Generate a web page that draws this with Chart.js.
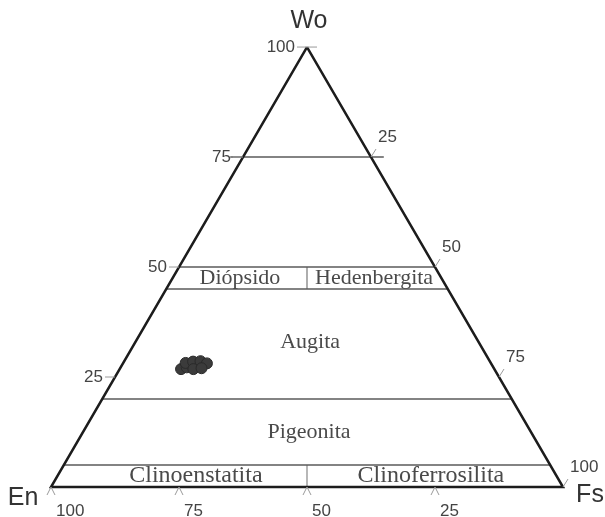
<!DOCTYPE html>
<html>
<head>
<meta charset="utf-8">
<script src="https://cdn.jsdelivr.net/npm/chart.js@4.4.1/dist/chart.umd.min.js"></script>
<style>
  html, body { margin: 0; padding: 0; background: #fff; }
</style>
</head>
<body>
<canvas id="diagrama" width="605" height="517"></canvas>
<script>
// Muestras: % Wo y % Fs (En = 100 - Wo - Fs)
const muestrasWo = [26.8, 27.2, 28.2, 28.5, 28.6, 28.1, 26.8, 27.0];
const muestrasFs = [12.0, 12.9, 12.2, 13.5, 14.9, 16.4, 14.4, 15.9];

// Vértices y marcas de los ejes
const vertices = ["Wo", "En", "Fs"];
const marcas = [25, 50, 75, 100];

// Límites de campos (% Wo) y nombres de campos
const nivelesWo = [75, 50, 45, 20, 5];
const campos = ["Diópsido", "Hedenbergita", "Augita", "Pigeonita", "Clinoenstatita", "Clinoferrosilita"];

const SQ = Math.sqrt(3) / 2;

// Composición ternaria -> coordenadas del plano
function pt(wo, fs) {
  return { x: fs + wo / 2, y: wo * SQ };
}

function linea(puntos, color, ancho) {
  return {
    type: "scatter",
    data: puntos,
    showLine: true,
    pointRadius: 0,
    borderColor: color,
    borderWidth: ancho,
    fill: false,
  };
}

const datasets = [];

// Contorno del triángulo
datasets.push(linea([pt(100, 0), pt(0, 0), pt(0, 100), pt(100, 0)], "#1c1c1c", 2.5));

// Líneas horizontales de % Wo
nivelesWo.forEach((w) => {
  const extra = w === 75 ? 2.5 : 0;
  datasets.push(linea([pt(w, -extra), pt(w, 100 - w + extra)], "#5a5a5a", 1.6));
});

// Divisiones En = Fs
datasets.push(linea([pt(45, 27.5), pt(50, 25)], "#777", 1.2));
datasets.push(linea([pt(0, 50), pt(5, 47.5)], "#888", 1.2));

// Muestras
datasets.push({
  type: "scatter",
  data: muestrasWo.map((w, i) => pt(w, muestrasFs[i])),
  pointRadius: 5.5,
  pointBackgroundColor: "#3b3b3b",
  pointBorderColor: "#2a2a2a",
  pointBorderWidth: 1,
});

// Textos y marcas de los ejes
const textosTernarios = {
  id: "textosTernarios",
  afterDraw(chart) {
    const ctx = chart.ctx;
    const xs = chart.scales.x;
    const ys = chart.scales.y;
    const px = (wo, fs) => {
      const p = pt(wo, fs);
      return [xs.getPixelForValue(p.x), ys.getPixelForValue(p.y)];
    };

    ctx.save();

    // marcas pequeñas
    ctx.strokeStyle = "#9a9a9a";
    ctx.lineWidth = 1;
    marcas.forEach((v) => {
      let [x, y] = px(v, 0);
      ctx.beginPath();
      ctx.moveTo(x - 10, y);
      ctx.lineTo(v === 100 ? x + 10 : x, y);
      ctx.stroke();

      [x, y] = px(100 - v, v);
      ctx.beginPath();
      ctx.moveTo(x, y);
      ctx.lineTo(x + 5, y - 8);
      ctx.stroke();

      [x, y] = px(0, 100 - v);
      ctx.beginPath();
      ctx.moveTo(x - 4, y + 8);
      ctx.lineTo(x, y);
      ctx.lineTo(x + 4, y + 8);
      ctx.stroke();
    });

    // números de los ejes
    ctx.fillStyle = "#444";
    ctx.font = "17px 'Liberation Sans', Arial, sans-serif";
    ctx.textBaseline = "middle";
    marcas.forEach((v) => {
      let [x, y] = px(v, 0);
      ctx.textAlign = "right";
      ctx.fillText(String(v), x - 12, y);

      [x, y] = px(100 - v, v);
      ctx.textAlign = "left";
      ctx.fillText(String(v), x + 7, y - 20);

      [x, y] = px(0, 100 - v);
      ctx.textAlign = "left";
      ctx.fillText(String(v), x + 5, y + 24);
    });

    // vértices
    ctx.fillStyle = "#333";
    ctx.font = "25px 'Liberation Sans', Arial, sans-serif";
    ctx.textAlign = "center";
    let [x, y] = px(100, 0);
    ctx.fillText(vertices[0], x + 2, y - 26);
    [x, y] = px(0, 0);
    ctx.fillText(vertices[1], x - 28, y + 11);
    [x, y] = px(0, 100);
    ctx.fillText(vertices[2], x + 27, y + 8);

    // nombres de campos
    const sitios = [
      [47.5, 13.15], [47.5, 39.35], [33, 34.1],
      [12.5, 44.15], [2.5, 27.05], [2.5, 72.95],
    ];
    const tamanos = [22, 22, 22, 22, 24, 24];
    ctx.fillStyle = "#4a4a4a";
    campos.forEach((nombre, i) => {
      const [cx, cy] = px(sitios[i][0], sitios[i][1]);
      ctx.font = tamanos[i] + "px 'Liberation Serif', 'Times New Roman', serif";
      ctx.fillText(nombre, cx, cy);
    });

    ctx.restore();
  },
};

new Chart(document.getElementById("diagrama"), {
  type: "scatter",
  data: { datasets },
  options: {
    responsive: false,
    animation: false,
    devicePixelRatio: 1,
    layout: { padding: 0, autoPadding: false },
    plugins: { legend: { display: false }, tooltip: { enabled: false } },
    scales: {
      x: { type: "linear", display: false, min: -51 / 5.12, max: (605 - 51) / 5.12 },
      y: { type: "linear", display: false, min: -(517 - 487) / 5.08, max: 487 / 5.08 },
    },
  },
  plugins: [textosTernarios],
});
</script>
</body>
</html>
